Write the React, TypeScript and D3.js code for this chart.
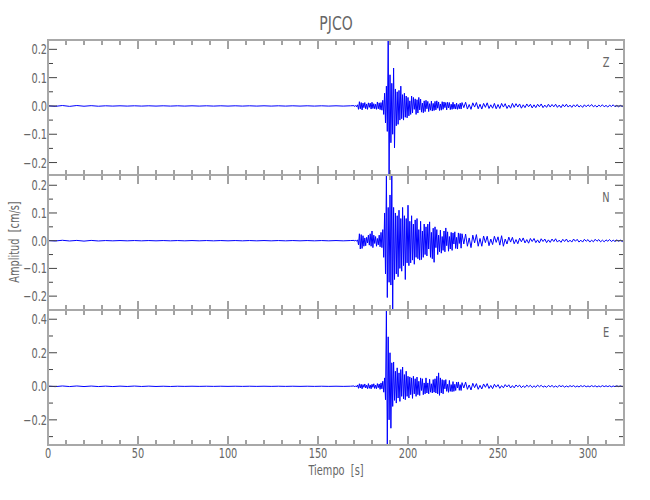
import React from 'react';
import * as d3 from 'd3';

// ---------- data ----------
const title = 'PJCO';
const xLabel = 'Tiempo  [s]';
const yLabel = 'Amplitud  [cm/s]';
const components = ['Z', 'N', 'E'];

const preStart = 0, preStep = 4;      // 0..168 s
const mainStart = 170, mainStep = 0.5; // 170..229.5 s
const codaStart = 230, codaStep = 1;   // 230..320 s

const xMajorTicks = [0, 50, 100, 150, 200, 250, 300];
const xMinorTicks = [10, 20, 30, 40, 60, 70, 80, 90, 110, 120, 130, 140, 160, 170, 180, 190, 210, 220, 230, 240, 260, 270, 280, 290, 310, 320];

const zMajorTicks = [-0.2, -0.1, 0.0, 0.1, 0.2];
const zMinorTicks = [-0.15, -0.05, 0.05, 0.15];
const nMajorTicks = [-0.2, -0.1, 0.0, 0.1, 0.2];
const nMinorTicks = [-0.15, -0.05, 0.05, 0.15];
const eMajorTicks = [-0.2, 0.0, 0.2, 0.4];
const eMinorTicks = [-0.3, -0.1, 0.1, 0.3];

const zPre = [
  0.0005, -0.0015, 0.0015, -0.0015, 0.0015, -0.001, 0.001, -0.001, 0.0005, -0.0005,
  0.0005, -0.0005, 0.0005, -0.0005, 0.0005, -0.0005, 0.0005, -0.0005, 0.0005, -0.0005,
  0.0005, -0.0005, 0.0005, -0.0005, 0.0005, -0.0005, 0.0005, -0.0005, 0.0005, -0.0005,
  0.0005, -0.0005, 0.0005, -0.0005, 0.0005, -0.0005, 0.0005, -0.0005, 0.0005, -0.0005,
  0.0005, -0.0005, 0.0005,
];
const zMain = [
  0.001, -0.002, 0.002, -0.003, 0.004, -0.012, 0.015, -0.010, 0.012, -0.014,
  0.010, -0.006, 0.012, -0.010, 0.007, -0.012, 0.011, -0.005, 0.010, -0.011,
  0.013, -0.009, 0.008, -0.010, 0.006, -0.012, 0.014, -0.010, 0.011, -0.013,
  0.012, -0.015, 0.020, -0.030, 0.045, -0.060, 0.070, -0.090, 0.233, -0.244,
  0.110, -0.130, 0.080, -0.100, 0.134, -0.148, 0.060, -0.070, 0.050, -0.065,
  0.055, -0.050, 0.070, -0.045, 0.040, -0.050, 0.045, -0.040, 0.035, -0.042,
  0.030, -0.035, 0.018, -0.030, 0.035, -0.025, 0.030, -0.012, 0.025, -0.030,
  0.022, -0.025, 0.030, -0.014, 0.024, -0.022, 0.010, -0.024, 0.018, -0.020,
  0.020, -0.010, 0.016, -0.020, 0.008, -0.015, 0.017, -0.018, 0.009, -0.016,
  0.016, -0.014, 0.018, -0.008, 0.014, -0.016, 0.007, -0.015, 0.015, -0.012,
  0.014, -0.006, 0.012, -0.014, 0.013, -0.007, 0.012, -0.013, 0.006, -0.012,
  0.013, -0.010, 0.006, -0.011, 0.010, -0.012, 0.005, -0.010, 0.010, -0.011,
];
const zCoda = [
  0.012, -0.006, 0.013, -0.011, 0.005, -0.012, 0.011, -0.004, 0.012, -0.010,
  0.006, -0.011, 0.009, -0.005, 0.011, -0.009, 0.004, -0.008, 0.009, -0.010,
  0.005, -0.009, 0.009, -0.004, 0.008, -0.009, 0.003, -0.008, 0.009, -0.005,
  0.008, -0.004, 0.007, -0.008, 0.004, -0.006, 0.007, -0.003, 0.006, -0.007,
  0.004, -0.006, 0.006, -0.003, 0.007, -0.006, 0.003, -0.005, 0.006, -0.004,
  0.005, -0.003, 0.006, -0.005, 0.003, -0.006, 0.005, -0.003, 0.006, -0.004,
  0.003, -0.005, 0.004, -0.003, 0.005, -0.004, 0.002, -0.005, 0.004, -0.003,
  0.004, -0.002, 0.005, -0.003, 0.002, -0.004, 0.003, -0.002, 0.004, -0.003,
  0.002, -0.004, 0.003, -0.002, 0.004, -0.003, 0.002, -0.003, 0.002, -0.002, 0.002,
];

const nPre = [
  0.0005, -0.001, 0.0015, -0.001, 0.001, -0.0015, 0.001, -0.001, 0.0005, -0.0005,
  0.0005, -0.0005, 0.0005, -0.0005, 0.0005, -0.0005, 0.0005, -0.0005, 0.0005, -0.0005,
  0.0005, -0.0005, 0.0005, -0.0005, 0.0005, -0.0005, 0.0005, -0.0005, 0.0005, -0.0005,
  0.0005, -0.0005, 0.0005, -0.0005, 0.0005, -0.0005, 0.0005, -0.0005, 0.0005, -0.0005,
  0.0005, -0.0005, 0.0005,
];
const nMain = [
  0.001, -0.001, 0.002, -0.002, 0.003, -0.015, 0.025, -0.030, 0.022, -0.028,
  0.018, -0.020, 0.010, -0.018, 0.012, -0.008, 0.020, -0.016, 0.025, -0.020,
  0.035, -0.025, 0.020, -0.010, 0.015, -0.020, 0.008, -0.015, 0.020, -0.022,
  0.030, -0.025, 0.040, -0.060, 0.100, -0.120, 0.237, -0.205, 0.120, -0.150,
  0.165, -0.160, 0.237, -0.250, 0.120, -0.140, 0.100, -0.120, 0.090, -0.130,
  0.110, -0.100, 0.080, -0.110, 0.120, -0.090, 0.090, -0.140, 0.080, -0.080,
  0.128, -0.090, 0.070, -0.080, 0.090, -0.070, 0.060, -0.085, 0.075, -0.060,
  0.080, -0.065, 0.040, -0.070, 0.070, -0.068, 0.035, -0.060, 0.060, -0.050,
  0.050, -0.055, 0.060, -0.030, 0.068, -0.060, 0.030, -0.065, 0.045, -0.078,
  0.050, -0.025, 0.040, -0.050, 0.020, -0.040, 0.038, -0.045, 0.015, -0.035,
  0.035, -0.040, 0.046, -0.018, 0.032, -0.038, 0.015, -0.030, 0.030, -0.035,
  0.028, -0.012, 0.032, -0.028, 0.012, -0.030, 0.028, -0.010, 0.026, -0.027,
];
const nCoda = [
  0.025, -0.012, 0.024, -0.020, 0.010, -0.025, 0.020, -0.008, 0.022, -0.020,
  0.008, -0.020, 0.017, -0.007, 0.016, -0.018, 0.006, -0.014, 0.016, -0.006,
  0.014, -0.016, 0.018, -0.020, 0.006, -0.012, 0.013, -0.005, 0.012, -0.011,
  0.004, -0.011, 0.009, -0.004, 0.010, -0.008, 0.004, -0.009, 0.008, -0.003,
  0.008, -0.007, 0.003, -0.008, 0.007, -0.003, 0.006, -0.007, 0.003, -0.006,
  0.006, -0.003, 0.007, -0.005, 0.002, -0.006, 0.005, -0.003, 0.006, -0.005,
  0.002, -0.005, 0.006, -0.002, 0.005, -0.005, 0.002, -0.005, 0.005, -0.002,
  0.004, -0.005, 0.002, -0.004, 0.005, -0.002, 0.004, -0.004, 0.002, -0.004,
  0.003, -0.002, 0.004, -0.003, 0.002, -0.003, 0.003, -0.002, 0.002, -0.003, 0.002,
];

const ePre = [
  0.001, -0.002, 0.002, -0.0015, 0.002, -0.0015, 0.0015, -0.0015, 0.001, -0.0015,
  0.001, -0.001, 0.0015, -0.001, 0.001, -0.001, 0.0005, -0.001, 0.0005, -0.0005,
  0.0005, -0.0005, 0.0005, -0.0005, 0.0005, -0.0005, 0.0005, -0.0005, 0.0005, -0.0005,
  0.0005, -0.0005, 0.0005, -0.0005, 0.0005, -0.0005, 0.0005, -0.0005, 0.0005, -0.0005,
  0.0005, -0.0005, 0.0005,
];
const eMain = [
  0.002, -0.003, 0.003, -0.004, 0.008, -0.012, 0.015, -0.010, 0.012, -0.015,
  0.010, -0.006, 0.014, -0.010, 0.007, -0.014, 0.016, -0.012, 0.008, -0.015,
  0.012, -0.006, 0.015, -0.013, 0.007, -0.014, 0.016, -0.008, 0.014, -0.018,
  0.020, -0.015, 0.030, -0.035, 0.050, -0.080, 0.455, -0.350, 0.295, -0.200,
  0.200, -0.250, 0.140, -0.120, 0.145, -0.084, 0.090, -0.100, 0.110, -0.070,
  0.080, -0.090, 0.100, -0.060, 0.115, -0.075, 0.070, -0.080, 0.090, -0.060,
  0.060, -0.070, 0.056, -0.050, 0.050, -0.072, 0.060, -0.045, 0.045, -0.060,
  0.055, -0.050, 0.030, -0.055, 0.050, -0.025, 0.045, -0.050, 0.020, -0.045,
  0.050, -0.040, 0.020, -0.045, 0.042, -0.035, 0.015, -0.040, 0.040, -0.035,
  0.045, -0.040, 0.060, -0.045, 0.080, -0.054, 0.050, -0.040, 0.040, -0.045,
  0.036, -0.015, 0.040, -0.030, 0.012, -0.036, 0.035, -0.030, 0.010, -0.032,
  0.028, -0.030, 0.012, -0.025, 0.025, -0.010, 0.026, -0.024, 0.010, -0.025,
];
const eCoda = [
  0.022, -0.010, 0.025, -0.018, 0.008, -0.022, 0.018, -0.008, 0.016, -0.018,
  0.006, -0.016, 0.014, -0.006, 0.016, -0.013, 0.005, -0.014, 0.012, -0.005,
  0.010, -0.012, 0.004, -0.009, 0.010, -0.004, 0.009, -0.010, 0.004, -0.009,
  0.008, -0.003, 0.007, -0.008, 0.003, -0.007, 0.007, -0.003, 0.006, -0.007,
  0.003, -0.006, 0.007, -0.003, 0.006, -0.005, 0.002, -0.006, 0.005, -0.003,
  0.005, -0.005, 0.002, -0.005, 0.005, -0.002, 0.004, -0.005, 0.002, -0.004,
  0.004, -0.002, 0.004, -0.004, 0.002, -0.004, 0.004, -0.002, 0.004, -0.003,
  0.002, -0.003, 0.004, -0.002, 0.003, -0.004, 0.002, -0.003, 0.004, -0.002,
  0.003, -0.002, 0.003, -0.003, 0.002, -0.002, 0.003, -0.002, 0.002, -0.002, 0.002,
];

// ---------- layout ----------
const W = 650, H = 500;
const left = 48, right = 624;
const panelTop = 40, panelH = 135;
const FONT = '"DejaVu Sans", sans-serif';
const TXT = '#666';
const FRAME = '#a8a8a8';
const TICK = '#444';
const SX = 0.7;

type Pt = [number, number];
function toPoints(pre: number[], main: number[], coda: number[]): Pt[] {
  const pts: Pt[] = [];
  pre.forEach((v, i) => pts.push([preStart + i * preStep, v]));
  main.forEach((v, i) => pts.push([mainStart + i * mainStep, v]));
  coda.forEach((v, i) => pts.push([codaStart + i * codaStep, v]));
  return pts;
}

const traces = [
  { name: components[0], pts: toPoints(zPre, zMain, zCoda), major: zMajorTicks, minor: zMinorTicks },
  { name: components[1], pts: toPoints(nPre, nMain, nCoda), major: nMajorTicks, minor: nMinorTicks },
  { name: components[2], pts: toPoints(ePre, eMain, eCoda), major: eMajorTicks, minor: eMinorTicks },
];

function T(props: { x: number; y: number; anchor?: string; size?: number; rotate?: number; dy?: string; children: any }) {
  const { x, y, anchor = 'middle', size = 14, rotate = 0, dy, children } = props;
  return (
    <text
      transform={`translate(${x},${y}) rotate(${rotate}) scale(${SX},1)`}
      x={0}
      y={0}
      dy={dy}
      textAnchor={anchor}
      fontFamily={FONT}
      fontSize={size}
      fill={TXT}
      style={{ whiteSpace: 'pre' }}
    >
      {children}
    </text>
  );
}

export default function App() {
  const x = d3.scaleLinear().domain([0, 320]).range([left, right]);
  const fmtY = (v: number) => d3.format('.1f')(v).replace('-', '\u2212');
  return (
    <svg width={W} height={H} style={{ display: 'block', position: 'absolute', left: 0, top: 0, background: '#fff' }}>
      <defs>
        {traces.map((t, i) => (
          <clipPath id={`clip${i}`} key={i}>
            <rect x={left} y={panelTop + i * panelH} width={right - left} height={panelH} />
          </clipPath>
        ))}
      </defs>
      <T x={(left + right) / 2} y={30} size={20}>{title}</T>
      {traces.map((t, i) => {
        const top = panelTop + i * panelH;
        const bottom = top + panelH;
        const ext = d3.extent(t.pts, (p) => p[1]) as [number, number];
        const y = d3.scaleLinear().domain(ext).range([bottom, top]);
        const line = d3.line<Pt>().x((p) => x(p[0])).y((p) => y(p[1]));
        return (
          <g key={t.name}>
            <path d={line(t.pts) || ''} fill="none" stroke="#0000ff" strokeWidth={1} clipPath={`url(#clip${i})`} />
            {xMajorTicks.map((v) => (
              <g key={'xM' + v}>
                <line x1={x(v)} x2={x(v)} y1={top} y2={top + 9} stroke={TICK} strokeWidth={1} />
                <line x1={x(v)} x2={x(v)} y1={bottom} y2={bottom - 9} stroke={TICK} strokeWidth={1} />
              </g>
            ))}
            {xMinorTicks.map((v) => (
              <g key={'xm' + v}>
                <line x1={x(v)} x2={x(v)} y1={top} y2={top + 5} stroke={TICK} strokeWidth={1} />
                <line x1={x(v)} x2={x(v)} y1={bottom} y2={bottom - 5} stroke={TICK} strokeWidth={1} />
              </g>
            ))}
            {t.major.map((v) => (
              <g key={'yM' + v}>
                <line x1={left} x2={left + 9} y1={y(v)} y2={y(v)} stroke={TICK} strokeWidth={1} />
                <line x1={right} x2={right - 9} y1={y(v)} y2={y(v)} stroke={TICK} strokeWidth={1} />
                <T x={left - 1} y={y(v)} dy="0.36em" anchor="end">{fmtY(v)}</T>
              </g>
            ))}
            {t.minor.map((v) => (
              <g key={'ym' + v}>
                <line x1={left} x2={left + 5} y1={y(v)} y2={y(v)} stroke={TICK} strokeWidth={1} />
                <line x1={right} x2={right - 5} y1={y(v)} y2={y(v)} stroke={TICK} strokeWidth={1} />
              </g>
            ))}
            <rect x={left} y={top} width={right - left} height={panelH} fill="none" stroke={FRAME} strokeWidth={2} />
            <T x={606} y={top + 27}>{t.name}</T>
          </g>
        );
      })}
      {xMajorTicks.map((v) => (
        <T key={'xl' + v} x={x(v)} y={458}>{String(v)}</T>
      ))}
      <T x={(left + right) / 2} y={475}>{xLabel}</T>
      <T x={19} y={242} rotate={-90}>{yLabel}</T>
    </svg>
  );
}
